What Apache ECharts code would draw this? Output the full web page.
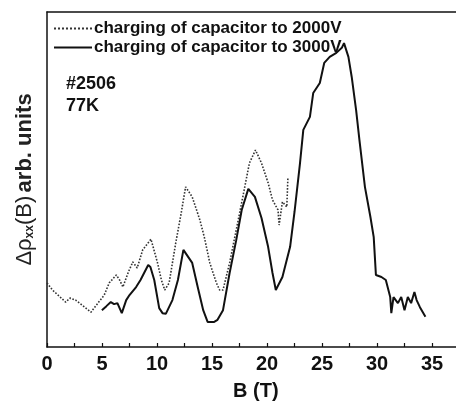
<!DOCTYPE html>
<html><head><meta charset="utf-8">
<script src="https://cdn.jsdelivr.net/npm/echarts@6/dist/echarts.min.js"></script>
<style>html,body{margin:0;padding:0;background:#fff}#c{width:456px;height:401px}</style>
</head><body><div id="c"></div>
<script>
// B (T) and Δρxx (arb. units) for 3000 V charging
const b3000 = [4.99,5.4,5.8,6.1,6.4,6.8,7.2,7.5,8.1,8.5,9.2,9.4,9.75,10.2,10.5,10.8,11.4,11.9,12.4,13.2,13.7,14.2,14.6,15.2,15.5,16.0,16.6,17.2,17.7,18.3,18.9,19.5,20.1,20.5,20.8,21.4,22.1,22.5,23.0,23.3,23.9,24.2,24.8,25.2,25.7,26.3,26.8,27.0,27.4,27.7,28.1,28.4,28.9,29.4,29.7,29.9,30.4,30.8,31.2,31.3,31.5,31.9,32.2,32.5,32.8,33.1,33.4,33.6,33.9,34.4];
const r3000 = [1.10,1.22,1.34,1.28,1.31,1.01,1.40,1.55,1.79,2.00,2.45,2.39,2.00,1.16,1.01,0.99,1.40,2.00,2.90,2.51,1.79,1.10,0.75,0.75,0.81,1.10,2.21,3.19,4.09,4.72,4.48,3.85,2.99,2.21,1.70,2.09,2.99,4.03,5.49,6.48,6.87,7.58,7.88,8.48,8.66,8.78,8.93,9.07,8.66,8.06,7.07,6.18,4.78,3.88,3.28,2.15,2.09,2.00,1.49,1.01,1.49,1.31,1.49,1.10,1.49,1.31,1.64,1.40,1.19,0.90];
// 2000 V charging
const b2000 = [0,0.5,1.0,1.7,2.1,2.6,3.2,4.0,4.7,5.2,5.65,6.3,6.6,6.9,7.4,7.8,8.2,8.7,9.45,10.05,10.4,10.7,11.1,11.7,12.2,12.6,13.2,13.9,14.3,14.8,15.4,15.7,16.0,16.6,17.2,17.8,18.4,18.95,19.5,20.1,20.5,21.0,21.1,21.4,21.8,21.9];
const r2000 = [1.91,1.70,1.55,1.34,1.46,1.40,1.25,1.04,1.34,1.55,1.91,2.15,2.00,1.79,2.24,2.54,2.36,2.90,3.22,2.51,2.00,1.70,1.91,3.10,4.00,4.78,4.48,3.79,3.28,2.51,1.91,1.70,1.70,2.51,3.49,4.48,5.49,5.88,5.49,4.90,4.39,4.09,3.64,4.33,4.18,5.07];
const xTicks = [0,5,10,15,20,25,30,35];
const seriesNames = ['charging of capacitor to 2000V','charging of capacitor to 3000V'];
const sampleLabel = ['#2506','77K'];

const zip = (a,b) => a.map((v,i)=>[v,b[i]]);
const F = 'Liberation Sans, Arial, sans-serif';
const chart = echarts.init(document.getElementById('c'));
chart.setOption({
  animation:false,
  grid:{left:47,top:12,right:0,bottom:54,show:false},
  legend:{
    orient:'vertical', left:48, top:15, itemGap:2, itemWidth:38, itemHeight:14,
    data:seriesNames,
    itemStyle:{opacity:0},
    textStyle:{fontFamily:F,fontWeight:'bold',fontSize:17,color:'#111',padding:[0,0,0,-3]}
  },
  xAxis:[{
    type:'value', min:0, max:37.18, interval:2.5, position:'bottom',
    axisLine:{lineStyle:{color:'#111',width:1.5}},
    axisTick:{inside:true,length:4,lineStyle:{color:'#111',width:1.2}},
    splitLine:{show:false},
    axisLabel:{margin:7,fontFamily:F,fontWeight:'bold',fontSize:20,color:'#111',showMaxLabel:false,
      formatter:v=> xTicks.indexOf(v)>=0 ? String(v) : ''}
  },{
    type:'value', min:0, max:37.18, position:'top',
    axisLine:{show:true,lineStyle:{color:'#111',width:1.5}},
    axisTick:{show:false}, axisLabel:{show:false}, splitLine:{show:false}
  }],
  yAxis:{
    type:'value', min:0, max:10,
    axisLine:{show:true,lineStyle:{color:'#111',width:1.5}},
    axisTick:{show:false}, axisLabel:{show:false}, splitLine:{show:false},
    name:'{r|Δρ}{s|xx}{r|(B)} {b|arb. units}', nameLocation:'middle', nameGap:11,
    nameTextStyle:{
      rich:{
        r:{fontFamily:F,fontSize:22,color:'#222'},
        s:{fontFamily:F,fontSize:12,fontWeight:'bold',color:'#222',verticalAlign:'bottom',padding:[11,0,0,0]},
        b:{fontFamily:F,fontSize:22,fontWeight:'bold',color:'#222'}
      }
    }
  },
  graphic:[
    {type:'text',left:66,top:73,style:{text:sampleLabel.join('\n'),font:'bold 18px '+F,fill:'#111',lineHeight:22}},
    {type:'text',left:233,top:381,style:{text:'B (T)',font:'bold 20px '+F,fill:'#111'}}
  ],
  series:[
    {name:seriesNames[0],type:'line',data:zip(b2000,r2000),symbol:'none',color:'#333',
      lineStyle:{type:'dotted',width:1.6,color:'#333'}},
    {name:seriesNames[1],type:'line',data:zip(b3000,r3000),symbol:'none',color:'#111',
      lineStyle:{type:'solid',width:2,color:'#111'}}
  ]
});
</script></body></html>
